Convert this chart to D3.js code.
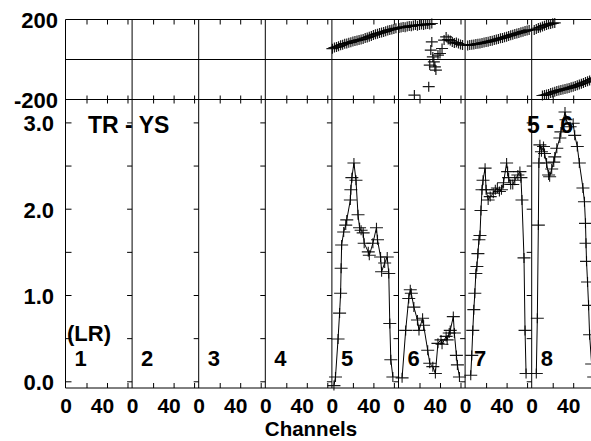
<!DOCTYPE html>
<html>
<head>
<meta charset="utf-8">
<script src="https://cdn.jsdelivr.net/npm/d3@7"></script>
<style>
  body { margin: 0; background: #fff; }
  svg text { font-family: "Liberation Sans", Arial, sans-serif; font-weight: bold; fill: #000; }
</style>
</head>
<body>
<svg id="chart" width="591" height="441"></svg>
<script>
// panels (baselines) and axis ticks
const panels = [1, 2, 3, 4, 5, 6, 7, 8];
const chanTicks = [20, 40, 60];
const chanLabels = [0, 40];
const ampTicks = [0, 0.5, 1, 1.5, 2, 2.5, 3];
const ampLabels = [0, 1, 2, 3];
const phaseLabels = [200, -200];

// amplitude, panels 5-8 (channel, value)
const amp5Ch = [1.5, 3, 5.5, 7, 8, 8.5, 9, 11, 13, 14, 17.5, 18, 19, 21, 23, 25, 26.5, 28, 30, 31, 35, 36, 39.5, 43, 44, 47, 48, 51, 53.5, 55, 56, 57, 59];
const amp5 = [-0.05, 0.05, 0.49, 0.79, 1.02, 1.31, 1.58, 1.73, 1.81, 1.87, 2.10, 2.22, 2.36, 2.53, 2.33, 1.93, 1.78, 1.75, 1.72, 1.60, 1.50, 1.46, 1.60, 1.78, 1.64, 1.44, 1.27, 1.37, 1.44, 1.25, 0.67, 0.25, 0.05];
const amp6Ch = [3, 6.5, 9.5, 11, 12, 14.5, 18, 19.5, 23, 24, 28, 30, 33, 35.5, 38, 41, 42, 46, 47, 49, 50, 53, 54, 56, 57, 59];
const amp6 = [0.04, 0.59, 0.96, 1.06, 1.02, 0.86, 0.71, 0.59, 0.73, 0.65, 0.36, 0.21, 0.17, 0.09, 0.44, 0.48, 0.43, 0.52, 0.48, 0.56, 0.59, 0.75, 0.56, 0.30, 0.19, 0.05];
const amp7Ch = [5, 6, 7, 8, 9, 10, 11, 12, 13, 14, 15, 16, 17, 19, 20, 22, 24, 27, 29, 31, 33, 35, 37, 40, 41, 42, 44, 46, 48, 51, 53, 54, 55, 57, 58, 59];
const amp7 = [0.07, 0.30, 0.59, 0.83, 1.02, 1.25, 1.33, 1.48, 1.64, 1.69, 1.98, 2.22, 2.33, 2.47, 2.22, 2.10, 2.14, 2.18, 2.22, 2.24, 2.20, 2.22, 2.30, 2.53, 2.43, 2.36, 2.28, 2.28, 2.33, 2.39, 2.43, 2.36, 2.10, 1.43, 0.59, 0.09];
const amp8Ch = [4, 5, 6, 6.5, 7.5, 9, 11, 12, 14, 16, 17, 19, 21, 22, 24, 27, 28, 32, 33, 37, 40, 41.5, 44, 46, 49.5, 51, 52, 52.5, 53, 54, 55, 56, 58, 60];
const amp8 = [0.09, 0.73, 1.81, 2.53, 2.74, 2.66, 2.72, 2.64, 2.53, 2.39, 2.37, 2.46, 2.54, 2.60, 2.70, 2.82, 2.89, 3.12, 3.03, 2.95, 2.99, 2.85, 2.72, 2.53, 2.24, 2.08, 1.83, 1.60, 1.39, 1.15, 0.88, 0.54, 0.20, 0.05];

// phase (degrees), panels 5-8
const ph5Ch = [0, 2, 4, 6, 8, 10, 12, 14, 16, 18, 20, 22, 24, 26, 28, 30, 32, 34, 36, 38, 40, 42, 44, 46, 48, 50, 52, 54, 56, 58, 60, 62];
const ph5 = [54, 60, 62, 66, 71, 74, 79, 80, 84, 86, 90, 93, 95, 98, 100, 103, 107, 110, 114, 118, 122, 126, 129, 132, 135, 138, 141, 145, 148, 150, 153, 156];
const ph6Ch = [0, 2, 4, 6, 8, 10, 12, 14, 15, 16, 18, 20, 22, 24, 26, 28, 29, 30, 30, 31, 32, 32, 33, 34, 35, 36, 38, 40, 42, 44, 46, 48, 50, 52, 54, 56, 58, 60, 62];
const ph6 = [158, 160, 163, 161, 165, 168, 166, 170, -178, 172, 169, 173, 175, 172, 176, 178, -136, 175, -28, 47, 180, 88, 13, -12, -37, -53, 22, 30, 55, 97, 113, 100, 95, 88, 82, 85, 80, 75, 72];
const ph7Ch = [2, 4, 6, 8, 10, 12, 14, 16, 18, 20, 22, 24, 26, 28, 30, 32, 34, 36, 38, 40, 42, 44, 46, 48, 50, 52, 54, 56, 58, 60, 62];
const ph7 = [70, 72, 74, 75, 77, 79, 80, 83, 85, 87, 89, 92, 94, 97, 100, 103, 106, 108, 111, 114, 118, 121, 124, 127, 130, 133, 136, 139, 142, 145, 148];
const ph8aCh = [2, 4, 6, 8, 10, 12, 14, 16, 18, 20, 22];
const ph8a = [148, 152, 157, 160, 165, 169, 172, 176, 178, 181, 183];
const ph8bCh = [10, 12, 14, 16, 18, 20, 22, 24, 26, 28, 30, 32, 34, 36, 38, 40, 42, 44, 46, 48, 50, 52, 54, 56, 58, 60, 62];
const ph8b = [-180, -178, -175, -172, -168, -165, -161, -158, -155, -152, -150, -147, -145, -142, -139, -136, -132, -129, -125, -121, -117, -113, -109, -105, -100, -96, -92];

const zip = (p, ch, v) => ch.map((c, i) => ({ p: p, c: c, v: v[i] }));
const ampSeries = [zip(5, amp5Ch, amp5), zip(6, amp6Ch, amp6), zip(7, amp7Ch, amp7), zip(8, amp8Ch, amp8)];
const phasePts = [].concat(zip(5, ph5Ch, ph5), zip(6, ph6Ch, ph6), zip(7, ph7Ch, ph7), zip(8, ph8aCh, ph8a), zip(8, ph8bCh, ph8b));

// layout
const left = 65.5, panelW = 66.6;
const phTop = 19.5, phBot = 99.5, ampBot = 388;
const right = left + panelW * panels.length;

const svg = d3.select('#chart');

// scales
const xp = d3.scaleBand().domain(panels).range([left, right]);
const chan = p => d3.scaleLinear().domain([-0.5, 64.5]).range([xp(p), xp(p) + panelW]);
const yPh = d3.scaleLinear().domain([-200, 200]).range([phBot, phTop]);
const yAmp = d3.scaleLinear().domain([0, 3]).range([381.3, 122.4]);

const frame = svg.append('g').attr('stroke', '#000').attr('stroke-width', 1).attr('fill', 'none');

// horizontal frame lines
[phTop, yPh(0), phBot, ampBot].forEach(y => {
  frame.append('line').attr('x1', left).attr('x2', right).attr('y1', y).attr('y2', y);
});
// left axis + dividers
panels.concat([9]).forEach(p => {
  const x = p <= 8 ? xp(p) : right;
  frame.append('line').attr('x1', x).attr('x2', x).attr('y1', phTop).attr('y2', ampBot);
});

// amplitude ticks on each divider
panels.forEach(p => {
  const g = svg.append('g').attr('transform', `translate(${xp(p)},0)`);
  g.call(d3.axisRight(yAmp).tickValues(ampTicks).tickSize(p === 1 ? 6 : 5).tickFormat(''));
  if (p > 1) g.call(d3.axisLeft(yAmp).tickValues(ampTicks).tickSize(5).tickFormat(''));
  g.selectAll('.domain').remove();
});

// channel ticks along horizontal lines
panels.forEach(p => {
  const s = chan(p);
  const mk = (axis, y, size) => {
    const g = svg.append('g').attr('transform', `translate(0,${y})`)
      .call(axis(s).tickValues(chanTicks).tickSize(size).tickFormat(''));
    g.selectAll('.domain').remove();
  };
  mk(d3.axisBottom, phTop, 5);
  mk(d3.axisTop, phBot, 4);
  mk(d3.axisBottom, phBot, 4);
  mk(d3.axisTop, ampBot, 5);
});
svg.selectAll('.tick line').attr('stroke', '#000');

// y labels
svg.selectAll('.phlab').data(phaseLabels).join('text')
  .attr('x', 58).attr('y', d => yPh(d) + 8).attr('text-anchor', 'end')
  .style('font-size', '22px').text(d => d);
svg.selectAll('.amplab').data(ampLabels).join('text')
  .attr('x', 54).attr('y', d => yAmp(d) + 9).attr('text-anchor', 'end')
  .style('font-size', '22px').text(d => d3.format('.1f')(d));

// x labels
panels.forEach(p => {
  const s = chan(p);
  svg.selectAll(null).data(chanLabels).join('text')
    .attr('x', d => s(d) - (d === 40 ? 4.5 : 0)).attr('y', 413).attr('text-anchor', 'middle')
    .style('font-size', '21px').text(d => d);
  svg.append('text').attr('x', xp(p) + 9).attr('y', 366).style('font-size', '22px').text(p);
});
svg.append('text').attr('x', 311).attr('y', 436).attr('text-anchor', 'middle').style('font-size', '20.5px').text('Channels');
svg.append('text').attr('x', 67).attr('y', 341).style('font-size', '22px').text('(LR)');
svg.append('text').attr('x', 88).attr('y', 133).style('font-size', '23px').text('TR - YS');
svg.append('text').attr('x', 527).attr('y', 133).style('font-size', '23px').text('5 - 6');

// cross marker path
const cross = (x, y, hw, hh) => `M${x - hw},${y}H${x + hw}M${x},${y - hh}V${y + hh}`;

// phase points
svg.append('g').selectAll('path').data(phasePts).join('path')
  .attr('d', d => cross(chan(d.p)(d.c), yPh(d.v), 6, 5))
  .attr('stroke', '#000').attr('stroke-opacity', 0.9).attr('stroke-width', 1.2).attr('fill', 'none');

// amplitude lines and points
const line = d3.line().x(d => chan(d.p)(d.c)).y(d => yAmp(d.v));
ampSeries.forEach(ser => {
  svg.append('path').datum(ser).attr('d', line)
    .attr('fill', 'none').attr('stroke', '#000').attr('stroke-width', 1);
  svg.append('g').selectAll('path').data(ser).join('path')
    .attr('d', d => cross(chan(d.p)(d.c), yAmp(d.v), 6.5, 5))
    .attr('stroke', '#000').attr('stroke-opacity', 0.9).attr('stroke-width', 1.1).attr('fill', 'none');
});
</script>
</body>
</html>
